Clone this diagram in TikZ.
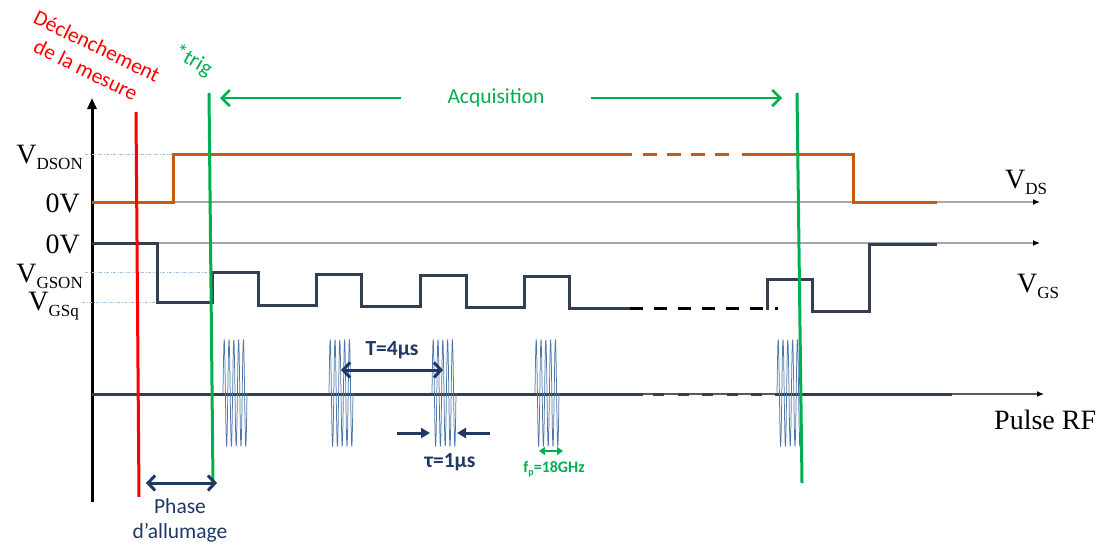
\documentclass[tikz,border=0pt]{standalone}
\usepackage{fontspec}
\setmainfont{Liberation Serif}
\newfontfamily\calib{Carlito}
\usetikzlibrary{arrows.meta}
\definecolor{orng}{HTML}{C55A11}
\definecolor{slate}{HTML}{333F50}
\definecolor{grn}{HTML}{00B050}
\definecolor{navy}{HTML}{1F3864}
\definecolor{rfblue}{HTML}{4F78AA}
\definecolor{axgray}{HTML}{A6A6A6}
\definecolor{dotblue}{HTML}{9DC3E6}
\newcommand\Vsub[1]{V\raisebox{-6pt}{\fontsize{17}{17}\selectfont #1}}
\tikzset{
  tlab/.style={font=\fontsize{28}{30}\selectfont, inner sep=0pt, text=black},
  clab/.style={font=\calib\fontsize{21.5}{25}\selectfont, inner sep=0pt},
  axisline/.style={draw=axgray, line width=1.3pt, -{Latex[length=7pt,width=6pt,color=black]}},
  sig/.style={line width=3pt, line join=miter},
  guide/.style={draw=dotblue, line width=0.8pt, dash pattern=on 3pt off 1.5pt on 1pt off 1.5pt},
  vline/.style={line width=3pt},
  navyarrow/.style={draw=navy, line width=3pt},
  burst/.style={draw=rfblue, line width=0.75pt},
}
\begin{document}
\begin{tikzpicture}[x=1pt,y=-1pt]
\useasboundingbox (0,0) rectangle (1102,544);

% axes
\draw[axisline] (92,202) -- (1040,202);
\draw[axisline] (92,243) -- (1040,243);
\draw[draw=black!65, line width=1.2pt, -{Latex[length=7pt,width=6pt,color=black]}] (92,394) -- (1044,394);
\draw[line width=3pt, -{Triangle[length=11pt,width=9pt]}] (92,502) -- (92,98);

% guide lines
\draw[guide] (85,154) -- (173,154);
\draw[guide] (85,272) -- (212,272);
\draw[guide] (82,302) -- (157,302);

% VDS
\draw[sig, orng] (92,202) -- (173,202) -- (173,154) -- (632,154);
\draw[sig, orng, dash pattern=on 14pt off 10pt] (643,154) -- (730,154);
\draw[sig, orng] (742,154) -- (853,154) -- (853,202) -- (937,202);

% VGS
\draw[sig, slate] (92,243) -- (157,243) -- (157,302) -- (212,302) -- (212,272) -- (258,272) -- (258,305) -- (316,305) -- (316,274) -- (361,274) -- (361,306) -- (420,306) -- (420,275) -- (466,275) -- (466,307) -- (524,307) -- (524,276) -- (569,276) -- (569,308) -- (630,308);
\draw[sig, black, dash pattern=on 13pt off 11pt] (630,308) -- (763,308);
\draw[sig, black] (775,308) -- (778,308);
\draw[sig, slate] (767,310) -- (767,279) -- (812,279) -- (812,311) -- (869,311) -- (869,244) -- (937,244);

% RF baseline
\draw[sig, slate] (92,394) -- (643,394);
\draw[sig, slate, dash pattern=on 11pt off 13.5pt] (653,394) -- (770,394);
\draw[sig, slate] (775,394) -- (952,394);

% bursts
\foreach \xo in {223,329,432,535,777}{
  \draw[burst] plot[domain=0:24, samples=300] ({\xo+\x},{393-53*sin(360*\x/4.8)});
}

% vertical markers
\draw[vline, red] (136,112) -- (139,497);
\draw[vline, grn] (209,93) -- (213,483);
\draw[vline, grn] (797,93) -- (802,483);

% left labels
\node[tlab, anchor=base east] (vdson) at (83,163) {\Vsub{DSON}};
\node[tlab, anchor=base east] (zv1) at (80,212) {0V};
\node[tlab, anchor=base east] (zv2) at (80,253) {0V};
\node[tlab, anchor=base east] (vgson) at (83,282) {\Vsub{GSON}};
\node[tlab, anchor=base east] (vgsq) at (79,310) {\Vsub{GSq}};
% right labels
\node[tlab, anchor=base west] (vds) at (1005,188) {\Vsub{DS}};
\node[tlab, anchor=base west] (vgs) at (1017,292) {\Vsub{GS}};
\node[tlab, anchor=base west] (prf) at (994,429) {Pulse RF};

% rotated texts
\node[clab, text=red, rotate=-26] (decl1) at (97,46) {Déclenchement};
\node[clab, text=red, rotate=-26] (decl2) at (86,70) {de la mesure};
\node[clab, text=grn, rotate=-30] (trig) at (193,61) {*trig};

% acquisition
\node[clab, text=grn] (acq) at (496,98) {Acquisition};
\coordinate (acqL) at (220,98);
\coordinate (acqLs) at (401,98);
\coordinate (acqR) at (782,98);
\coordinate (acqRs) at (591,98);
\draw[grn, line width=2.5pt, -{Straight Barb[length=8pt,width=16pt]}] (acqLs) -- (acqL);
\draw[grn, line width=2.5pt, -{Straight Barb[length=8pt,width=16pt]}] (acqRs) -- (acqR);

% T arrow
\node[clab, text=navy, font=\calib\bfseries\fontsize{21.5}{25}\selectfont] (tlab) at (392,350) {T=4μs};
\coordinate (tA) at (341,370);
\coordinate (tB) at (443,370);
\draw[navyarrow, {Straight Barb[length=7pt,width=15pt]}-{Straight Barb[length=7pt,width=15pt]}] (tA) -- (tB);

% tau arrows
\node[clab, text=navy, font=\calib\bfseries\fontsize{21.5}{25}\selectfont] (taulab) at (450,462) {τ=1μs};
\coordinate (tau1s) at (397,433);
\coordinate (tau1e) at (430,433);
\coordinate (tau2s) at (490,433);
\coordinate (tau2e) at (457,433);
\draw[navyarrow, -{Triangle[length=9pt,width=10pt]}] (tau1s) -- (tau1e);
\draw[navyarrow, -{Triangle[length=9pt,width=10pt]}] (tau2s) -- (tau2e);

% fp arrow
\node[clab, text=grn, font=\calib\bfseries\fontsize{16}{18}\selectfont] (fplab) at (554,469) {f\raisebox{-3pt}{\fontsize{10}{10}\selectfont p}=18GHz};
\coordinate (fpA) at (539,451);
\coordinate (fpB) at (563,451);
\draw[grn, line width=2.5pt, {Triangle[length=6pt,width=8pt]}-{Triangle[length=6pt,width=8pt]}] (fpA) -- (fpB);

% phase d'allumage
\coordinate (phA) at (146,483);
\coordinate (phB) at (217,483);
\draw[navyarrow, {Straight Barb[length=7pt,width=15pt]}-{Straight Barb[length=7pt,width=15pt]}] (phA) -- (phB);
\node[clab, text=navy, align=center] (phase) at (180,520) {Phase\\d’allumage};
\end{tikzpicture}
\end{document}
